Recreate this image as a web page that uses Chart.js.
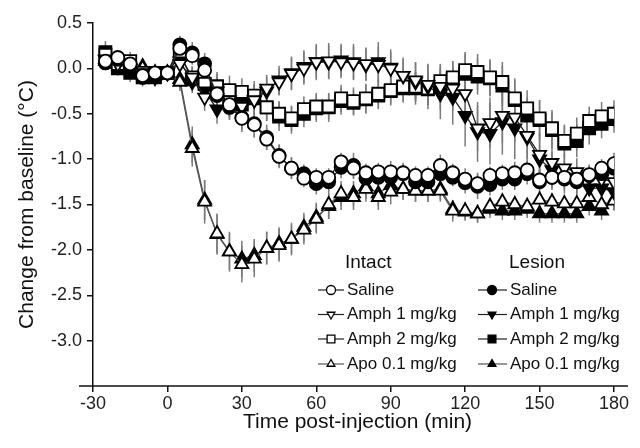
<!DOCTYPE html>
<html>
<head>
<meta charset="utf-8">
<script src="https://cdn.jsdelivr.net/npm/chart.js@4.4.0/dist/chart.umd.min.js"></script>
<style>
  html, body { margin: 0; padding: 0; background: #fff; }
  #wrap { width: 640px; height: 448px; }
</style>
</head>
<body>
<div id="wrap"><canvas id="tempChart" width="640" height="448"></canvas></div>
<script>
// Zaman noktaları (dk, enjeksiyon sonrası)
const times = [-25, -20, -15, -10, -5, 0, 5, 10, 15, 20, 25, 30, 35, 40, 45, 50, 55, 60, 65, 70, 75, 80, 85, 90, 95, 100, 105, 110, 115, 120, 125, 130, 135, 140, 145, 150, 155, 160, 165, 170, 175, 180];

// Ortalama sıcaklık değişimi (°C)
const intactSaline = [0.08, 0.12, 0.05, -0.08, -0.05, -0.05, 0.22, 0.14, -0.02, -0.28, -0.40, -0.55, -0.62, -0.78, -0.97, -1.10, -1.21, -1.20, -1.20, -1.03, -1.10, -1.15, -1.14, -1.14, -1.15, -1.18, -1.18, -1.07, -1.15, -1.22, -1.27, -1.18, -1.16, -1.15, -1.12, -1.23, -1.20, -1.20, -1.22, -1.17, -1.10, -1.05];
const lesionSaline = [0.06, 0.10, 0.00, -0.10, -0.08, -0.05, 0.26, 0.17, 0.05, -0.30, -0.43, -0.54, -0.61, -0.76, -0.96, -1.10, -1.16, -1.27, -1.25, -1.09, -1.07, -1.21, -1.20, -1.20, -1.16, -1.25, -1.25, -1.16, -1.20, -1.26, -1.30, -1.28, -1.22, -1.22, -1.16, -1.25, -1.20, -1.22, -1.25, -1.18, -1.16, -1.10];
const intactAmph1 = [0.10, 0.05, 0.00, -0.05, -0.08, -0.05, 0.05, -0.10, -0.32, -0.25, -0.35, -0.42, -0.35, -0.22, -0.15, -0.06, 0.00, 0.07, 0.08, 0.07, 0.06, 0.05, 0.04, 0.00, -0.08, -0.13, -0.18, -0.20, -0.22, -0.28, -0.66, -0.60, -0.52, -0.54, -0.74, -0.95, -1.04, -1.10, -1.14, -1.20, -1.22, -1.25];
const lesionAmph1 = [0.10, 0.05, 0.00, -0.08, -0.10, -0.05, 0.08, -0.15, -0.25, -0.45, -0.38, -0.40, -0.35, -0.25, -0.13, -0.05, 0.02, 0.07, 0.07, 0.09, 0.07, 0.04, 0.07, 0.01, -0.08, -0.15, -0.20, -0.28, -0.32, -0.52, -0.70, -0.72, -0.59, -0.66, -0.76, -1.00, -1.12, -1.20, -1.23, -1.32, -1.32, -1.36];
const intactAmph2 = [0.15, 0.05, 0.08, -0.05, -0.05, -0.05, 0.15, -0.10, -0.17, -0.20, -0.24, -0.26, -0.30, -0.43, -0.50, -0.55, -0.45, -0.42, -0.42, -0.33, -0.36, -0.33, -0.28, -0.24, -0.20, -0.20, -0.22, -0.14, -0.10, -0.02, -0.04, -0.10, -0.15, -0.33, -0.44, -0.55, -0.66, -0.80, -0.72, -0.58, -0.53, -0.50];
const lesionAmph2 = [0.18, 0.00, -0.05, -0.10, -0.10, -0.05, 0.15, -0.12, -0.17, -0.20, -0.38, -0.40, -0.33, -0.43, -0.53, -0.57, -0.50, -0.44, -0.43, -0.36, -0.38, -0.34, -0.30, -0.25, -0.22, -0.22, -0.23, -0.20, -0.12, -0.06, -0.09, -0.11, -0.19, -0.35, -0.52, -0.57, -0.68, -0.83, -0.80, -0.66, -0.61, -0.56];
const intactApo = [0.08, 0.05, 0.02, 0.00, -0.08, -0.05, -0.15, -0.88, -1.47, -1.82, -2.02, -2.16, -2.10, -1.98, -1.95, -1.88, -1.78, -1.66, -1.50, -1.38, -1.42, -1.33, -1.42, -1.36, -1.33, -1.35, -1.35, -1.35, -1.57, -1.57, -1.60, -1.52, -1.47, -1.50, -1.52, -1.45, -1.47, -1.49, -1.49, -1.42, -1.50, -1.46];
const lesionApo = [0.10, 0.05, 0.00, 0.02, -0.05, -0.05, -0.12, -0.84, -1.45, -1.83, -2.02, -2.10, -2.06, -1.98, -1.93, -1.88, -1.75, -1.64, -1.52, -1.42, -1.38, -1.30, -1.38, -1.29, -1.33, -1.35, -1.35, -1.33, -1.55, -1.58, -1.60, -1.55, -1.57, -1.57, -1.55, -1.60, -1.60, -1.60, -1.60, -1.52, -1.57, -1.45];

// Standart hata (SEM)
const intactSalineSem = [0.06, 0.06, 0.07, 0.06, 0.08, 0.06, 0.08, 0.10, 0.10, 0.12, 0.13, 0.13, 0.14, 0.12, 0.13, 0.12, 0.10, 0.10, 0.10, 0.10, 0.12, 0.10, 0.10, 0.12, 0.10, 0.10, 0.10, 0.12, 0.10, 0.12, 0.12, 0.10, 0.10, 0.12, 0.10, 0.12, 0.10, 0.10, 0.12, 0.10, 0.10, 0.12];
const lesionSalineSem = [0.07, 0.06, 0.06, 0.08, 0.06, 0.06, 0.10, 0.12, 0.12, 0.14, 0.14, 0.16, 0.15, 0.14, 0.12, 0.12, 0.10, 0.12, 0.10, 0.12, 0.14, 0.12, 0.10, 0.10, 0.12, 0.10, 0.12, 0.14, 0.10, 0.12, 0.14, 0.12, 0.12, 0.12, 0.12, 0.14, 0.14, 0.12, 0.14, 0.12, 0.12, 0.14];
const intactAmph1Sem = [0.08, 0.08, 0.08, 0.08, 0.08, 0.06, 0.10, 0.12, 0.15, 0.15, 0.18, 0.18, 0.16, 0.15, 0.15, 0.18, 0.18, 0.18, 0.20, 0.18, 0.18, 0.18, 0.20, 0.18, 0.18, 0.20, 0.22, 0.25, 0.25, 0.28, 0.25, 0.28, 0.30, 0.28, 0.25, 0.25, 0.18, 0.16, 0.15, 0.12, 0.12, 0.14];
const lesionAmph1Sem = [0.08, 0.10, 0.10, 0.08, 0.08, 0.06, 0.10, 0.12, 0.15, 0.16, 0.18, 0.18, 0.18, 0.16, 0.16, 0.18, 0.18, 0.20, 0.18, 0.18, 0.20, 0.18, 0.22, 0.20, 0.20, 0.22, 0.25, 0.28, 0.30, 0.34, 0.33, 0.34, 0.36, 0.34, 0.30, 0.28, 0.20, 0.18, 0.16, 0.14, 0.14, 0.16];
const intactAmph2Sem = [0.10, 0.08, 0.10, 0.08, 0.10, 0.06, 0.10, 0.12, 0.14, 0.14, 0.16, 0.15, 0.16, 0.15, 0.14, 0.14, 0.14, 0.15, 0.14, 0.15, 0.15, 0.16, 0.16, 0.15, 0.16, 0.16, 0.16, 0.18, 0.18, 0.20, 0.20, 0.20, 0.22, 0.22, 0.20, 0.20, 0.20, 0.18, 0.18, 0.16, 0.16, 0.15];
const lesionAmph2Sem = [0.12, 0.08, 0.10, 0.10, 0.10, 0.08, 0.10, 0.12, 0.15, 0.16, 0.16, 0.18, 0.16, 0.15, 0.16, 0.15, 0.15, 0.15, 0.16, 0.15, 0.14, 0.16, 0.15, 0.16, 0.16, 0.18, 0.18, 0.18, 0.20, 0.22, 0.20, 0.20, 0.22, 0.22, 0.20, 0.22, 0.20, 0.20, 0.18, 0.18, 0.16, 0.15];
const intactApoSem = [0.06, 0.06, 0.06, 0.06, 0.06, 0.06, 0.10, 0.20, 0.24, 0.22, 0.22, 0.20, 0.20, 0.18, 0.18, 0.18, 0.16, 0.16, 0.16, 0.14, 0.14, 0.14, 0.14, 0.14, 0.12, 0.12, 0.12, 0.12, 0.12, 0.10, 0.10, 0.10, 0.10, 0.10, 0.10, 0.10, 0.10, 0.10, 0.10, 0.10, 0.10, 0.10];
const lesionApoSem = [0.06, 0.06, 0.06, 0.06, 0.06, 0.06, 0.10, 0.20, 0.22, 0.22, 0.20, 0.20, 0.18, 0.18, 0.18, 0.16, 0.16, 0.16, 0.14, 0.14, 0.14, 0.14, 0.14, 0.12, 0.12, 0.12, 0.12, 0.12, 0.10, 0.10, 0.10, 0.10, 0.10, 0.10, 0.10, 0.10, 0.10, 0.10, 0.10, 0.10, 0.10, 0.12];

// Eksen ve gösterge metinleri
const xTicks = [-30, 0, 30, 60, 90, 120, 150, 180];
const yTicks = [0.5, 0.0, -0.5, -1.0, -1.5, -2.0, -2.5, -3.0];
const groupNames = ['Intact', 'Lesion'];
const treatmentNames = ['Saline', 'Amph 1 mg/kg', 'Amph 2 mg/kg', 'Apo 0.1 mg/kg'];

const FONT = "'Liberation Sans', Arial, sans-serif";

// Seri tanımları
const series = [
    { label: 'Intact ' + treatmentNames[0], values: intactSaline, sem: intactSalineSem, style: 'circle', rot: 0, r: 6.5, filled: false, line: '#222' },
    { label: 'Lesion ' + treatmentNames[0], values: lesionSaline, sem: lesionSalineSem, style: 'circle', rot: 0, r: 6.5, filled: true, line: '#222' },
    { label: 'Intact ' + treatmentNames[1], values: intactAmph1, sem: intactAmph1Sem, style: 'triangle', rot: 180, r: 7.5, filled: false, line: '#222' },
    { label: 'Lesion ' + treatmentNames[1], values: lesionAmph1, sem: lesionAmph1Sem, style: 'triangle', rot: 180, r: 7.5, filled: true, line: '#222' },
    { label: 'Intact ' + treatmentNames[2], values: intactAmph2, sem: intactAmph2Sem, style: 'rect', rot: 0, r: 8.5, filled: false, line: '#222' },
    { label: 'Lesion ' + treatmentNames[2], values: lesionAmph2, sem: lesionAmph2Sem, style: 'rect', rot: 0, r: 8.5, filled: true, line: '#222' },
    { label: 'Intact ' + treatmentNames[3], values: intactApo, sem: intactApoSem, style: 'triangle', rot: 0, r: 7.5, filled: false, line: '#555' },
    { label: 'Lesion ' + treatmentNames[3], values: lesionApo, sem: lesionApoSem, style: 'triangle', rot: 0, r: 7.5, filled: true, line: '#555' }
];

const datasets = series.map(s => ({
    label: s.label,
    data: times.map((t, i) => ({ x: t, y: s.values[i] })),
    sem: s.sem,
    borderColor: s.line,
    borderWidth: 1.3,
    pointStyle: s.style,
    pointRotation: s.rot,
    pointRadius: s.r,
    pointBackgroundColor: s.filled ? '#000' : '#fff',
    pointBorderColor: '#000',
    pointBorderWidth: 1.8,
    tension: 0
}));

// Hata çubukları
const errorBars = {
    id: 'errorBars',
    beforeDatasetsDraw(chart) {
        const ctx = chart.ctx;
        const yScale = chart.scales.y;
        ctx.save();
        ctx.strokeStyle = '#7a7a7a';
        ctx.lineWidth = 1.5;
        chart.data.datasets.forEach((ds, i) => {
            const meta = chart.getDatasetMeta(i);
            meta.data.forEach((pt, j) => {
                const v = ds.data[j].y;
                const e = ds.sem[j];
                ctx.beginPath();
                ctx.moveTo(pt.x, yScale.getPixelForValue(v + e));
                ctx.lineTo(pt.x, yScale.getPixelForValue(v - e));
                ctx.stroke();
            });
        });
        ctx.restore();
    }
};

// Eksen başlıkları, uzatılmış x ekseni ve gösterge
const decorations = {
    id: 'decorations',
    afterDraw(chart) {
        const ctx = chart.ctx;
        const area = chart.chartArea;
        ctx.save();
        // x ekseni çizgisi (iki yana taşan)
        ctx.strokeStyle = '#111';
        ctx.lineWidth = 1.5;
        ctx.beginPath();
        ctx.moveTo(area.left - 14, area.bottom);
        ctx.lineTo(area.right + 14, area.bottom);
        ctx.stroke();

        // eksen başlıkları
        ctx.fillStyle = '#111';
        ctx.font = '21px ' + FONT;
        ctx.textAlign = 'center';
        ctx.textBaseline = 'middle';
        ctx.fillText('Time post-injection (min)', (area.left + area.right) / 2 + 4, 422);
        ctx.save();
        ctx.translate(27, (area.top + area.bottom) / 2);
        ctx.rotate(-Math.PI / 2);
        ctx.fillText('Change from baseline (°C)', 0, 0);
        ctx.restore();

        // gösterge
        const cols = [
            { header: 345, lineL: 318, lineR: 344, mark: 331, text: 347 },
            { header: 509, lineL: 478, lineR: 507, mark: 492, text: 510 }
        ];
        const rowY = [290, 314.5, 339, 364];
        ctx.textAlign = 'left';
        groupNames.forEach((g, c) => {
            const col = cols[c];
            ctx.font = '19px ' + FONT;
            ctx.fillStyle = '#111';
            ctx.fillText(g, col.header, 263);
            treatmentNames.forEach((name, r) => {
                const s = series[r * 2 + c];
                const y = rowY[r];
                ctx.strokeStyle = s.line;
                ctx.lineWidth = 1.2;
                ctx.beginPath();
                ctx.moveTo(col.lineL, y);
                ctx.lineTo(col.lineR, y);
                ctx.stroke();
                ctx.fillStyle = s.filled ? '#000' : '#fff';
                ctx.strokeStyle = '#000';
                ctx.lineWidth = 1.3;
                Chart.helpers.drawPoint(ctx, {
                    pointStyle: s.style,
                    rotation: s.rot,
                    radius: s.style === 'rect' ? 5.5 : 4.5,
                    borderWidth: 1.3
                }, col.mark, y);
                ctx.fillStyle = '#111';
                ctx.font = '17px ' + FONT;
                ctx.fillText(name, col.text, y);
            });
        });
        ctx.restore();
    }
};

new Chart(document.getElementById('tempChart'), {
    type: 'line',
    data: { datasets: datasets },
    options: {
        responsive: false,
        animation: false,
        layout: { padding: { top: 23, right: 26, left: 0, bottom: 0 } },
        plugins: {
            legend: { display: false },
            tooltip: { enabled: false }
        },
        scales: {
            x: {
                type: 'linear',
                min: xTicks[0],
                max: xTicks[xTicks.length - 1],
                afterBuildTicks: s => { s.ticks = xTicks.map(v => ({ value: v })); },
                afterFit: s => { s.height = 62; },
                grid: { drawOnChartArea: false, drawTicks: true, tickLength: 6, color: '#111', lineWidth: 1.5 },
                border: { display: false },
                ticks: {
                    color: '#222',
                    padding: 1,
                    maxRotation: 0,
                    font: { family: FONT, size: 18 },
                    callback: v => String(v)
                }
            },
            y: {
                min: -3.5,
                max: 0.5,
                afterBuildTicks: s => { s.ticks = yTicks.map(v => ({ value: v })); },
                afterFit: s => { s.width = 93; },
                grid: { drawOnChartArea: false, drawTicks: true, tickLength: 6, color: '#111', lineWidth: 1.5 },
                border: { display: true, color: '#111', width: 1.5 },
                ticks: {
                    color: '#222',
                    padding: 5,
                    font: { family: FONT, size: 18 },
                    callback: v => Number(v).toFixed(1)
                }
            }
        }
    },
    plugins: [errorBars, decorations]
});
</script>
</body>
</html>
